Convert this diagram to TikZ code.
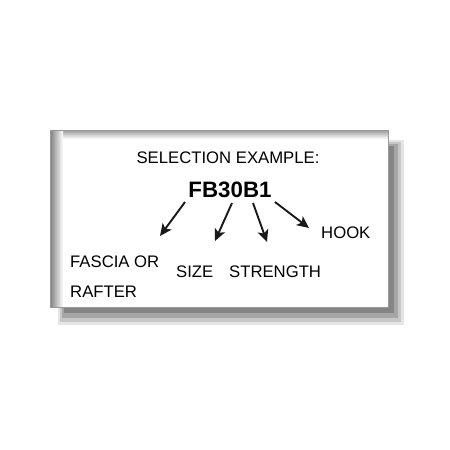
\documentclass[tikz,border=0pt]{standalone}
\usepackage{fontspec}
\setmainfont{Liberation Sans}
\usetikzlibrary{positioning,arrows.meta}

\begin{document}
\begin{tikzpicture}[x=1pt,y=-1pt,
  lbl/.style={inner sep=0pt,anchor=base west,font=\fontsize{16.7}{18}\selectfont},
  sel/.style={-{Stealth[length=12pt,width=11pt,inset=3pt]},line width=1.9pt,black!90}]
\useasboundingbox (0,0) rectangle (450,450);
\fill [white] (0,0) rectangle (450,450);
% soft shadow
\fill [black!10] (58,140) rectangle (404,325);
\fill [black!22] (60,142) rectangle (401,322);
\fill [black!35] (62,144) rectangle (398,318);
\fill [black!48] (64,146) rectangle (394,313);
% card
\fill [white] (50,130) rectangle (388,307);
\shade [left color=black!50,right color=white] (50,130) rectangle (63,307);
\shade [top color=black!40,bottom color=white] (50,130) rectangle (388,139);
\shade [left color=black!50,right color=white] (50,130) rectangle (63,139);
\draw [black!40,line width=0.8pt] (50,130) rectangle (388,307);
\node [inner sep=0pt,anchor=base,font=\fontsize{16.7}{18}\selectfont] (title) at (228,163) {SELECTION EXAMPLE:};
\node [inner sep=0pt,anchor=base,font=\fontsize{22.3}{24}\selectfont\bfseries] (code) at (230,197) {FB30B1};
\node [lbl] (hook) at (321,238) {HOOK};
\node [lbl] (fascia) at (70,267) {FASCIA OR};
\node [lbl] (rafter) at (70,297) {RAFTER};
\node [lbl] (size) at (176,277) {SIZE};
\node [lbl] (strength) at (229,277) {STRENGTH};
\coordinate (a1) at (185,202);
\coordinate (b1) at (160,236);
\coordinate (a2) at (232,203);
\coordinate (b2) at (215,241);
\coordinate (a3) at (253,203);
\coordinate (b3) at (267,242);
\coordinate (a4) at (275,202);
\coordinate (b4) at (309,228);
\draw [sel] (a1) -- (b1);
\draw [sel] (a2) -- (b2);
\draw [sel] (a3) -- (b3);
\draw [sel] (a4) -- (b4);
\end{tikzpicture}
\end{document}
